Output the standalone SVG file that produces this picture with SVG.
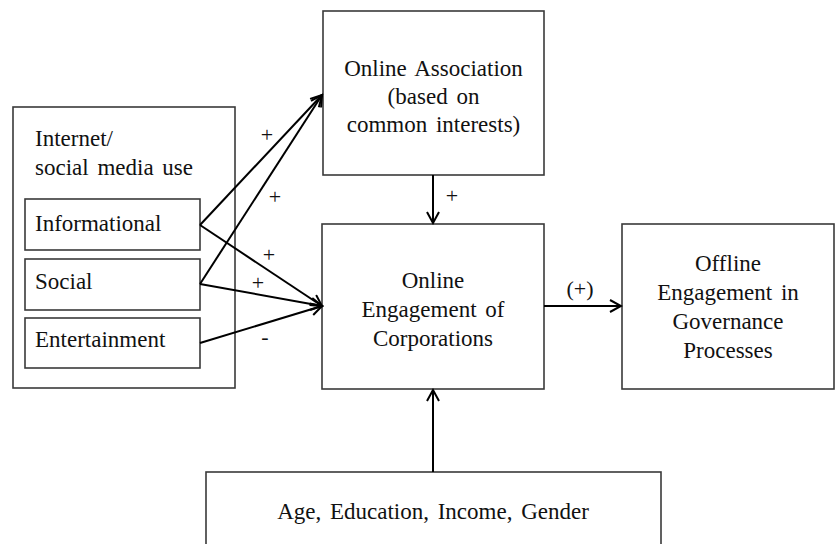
<svg xmlns="http://www.w3.org/2000/svg" width="835" height="544" viewBox="0 0 835 544">
<style>
.box{fill:#fff;stroke:#3a3a3a;stroke-width:1.6}
.t{font-size:23px;fill:#111;word-spacing:3px}
.c{text-anchor:middle}
.lbl{font-size:22px;fill:#111;text-anchor:middle}
.edge{stroke:#000;stroke-width:2;fill:none}
</style>
<defs>
<marker id="arr" viewBox="0 0 14 14" refX="12" refY="7" markerWidth="14" markerHeight="14" markerUnits="userSpaceOnUse" orient="auto">
<path d="M1,1 L12,7 L1,13" fill="none" stroke="#000" stroke-width="2"/>
</marker>
</defs>
<rect width="835" height="544" fill="#fff"/>
<g font-family="Liberation Serif, Times New Roman, serif">
<g id="internet-use">
<rect class="box" x="13" y="107" width="222" height="281"/>
<text class="t" x="35" y="146">Internet/</text>
<text class="t" x="35" y="175">social media use</text>
</g>
<g id="informational">
<rect class="box" x="25" y="199" width="175" height="51"/>
<text class="t" x="35" y="231">Informational</text>
</g>
<g id="social">
<rect class="box" x="25" y="259" width="175" height="51"/>
<text class="t" x="35" y="289">Social</text>
</g>
<g id="entertainment">
<rect class="box" x="25" y="318" width="175" height="50"/>
<text class="t" x="35" y="347">Entertainment</text>
</g>
<g id="online-association">
<rect class="box" x="323" y="11" width="221" height="164"/>
<text class="t c" x="433.5" y="76">Online Association</text>
<text class="t c" x="433.5" y="104">(based on</text>
<text class="t c" x="433.5" y="132">common interests)</text>
</g>
<g id="online-engagement">
<rect class="box" x="322" y="224" width="222" height="165"/>
<text class="t c" x="433" y="288">Online</text>
<text class="t c" x="433" y="317">Engagement of</text>
<text class="t c" x="433" y="346">Corporations</text>
</g>
<g id="offline-engagement">
<rect class="box" x="622" y="224" width="212" height="165"/>
<text class="t c" x="728" y="271">Offline</text>
<text class="t c" x="728" y="300">Engagement in</text>
<text class="t c" x="728" y="329">Governance</text>
<text class="t c" x="728" y="358">Processes</text>
</g>
<g id="demographics">
<rect class="box" x="206" y="472" width="455" height="90"/>
<text class="t c" x="433" y="519">Age, Education, Income, Gender</text>
</g>
<g id="connectors">
<line class="edge" x1="200" y1="225" x2="322" y2="95" marker-end="url(#arr)"/>
<line class="edge" x1="200" y1="284" x2="322" y2="95" marker-end="url(#arr)"/>
<line class="edge" x1="200" y1="225" x2="322" y2="306" marker-end="url(#arr)"/>
<line class="edge" x1="200" y1="284" x2="322" y2="306" marker-end="url(#arr)"/>
<line class="edge" x1="200" y1="343" x2="322" y2="306" marker-end="url(#arr)"/>
<line class="edge" x1="433" y1="175" x2="433" y2="223" marker-end="url(#arr)"/>
<line class="edge" x1="544" y1="306" x2="621" y2="306" marker-end="url(#arr)"/>
<line class="edge" x1="433" y1="472" x2="433" y2="390" marker-end="url(#arr)"/>
<text class="lbl" x="267" y="142">+</text>
<text class="lbl" x="275" y="204">+</text>
<text class="lbl" x="269" y="262">+</text>
<text class="lbl" x="258" y="290">+</text>
<text class="lbl" x="265" y="344">-</text>
<text class="lbl" x="452" y="203">+</text>
<text class="lbl" x="580" y="296">(+)</text>
</g>
</g>
</svg>
